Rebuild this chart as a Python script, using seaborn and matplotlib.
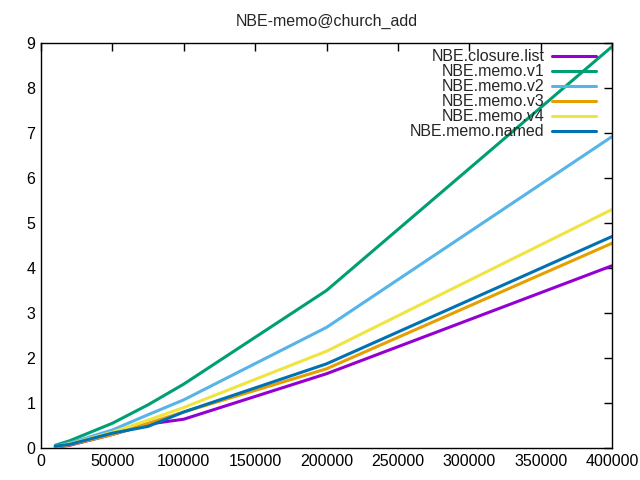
import matplotlib
matplotlib.use("Agg")
import matplotlib.pyplot as plt
import seaborn as sns
import pandas as pd

x_vals = [10000, 20000, 50000, 75000, 100000, 200000, 400000]
closure_list = [0.02, 0.06, 0.30, 0.53, 0.64, 1.65, 4.05]
memo_v1 = [0.06, 0.16, 0.55, 0.96, 1.42, 3.50, 8.92]
memo_v2 = [0.04, 0.11, 0.40, 0.74, 1.07, 2.68, 6.92]
memo_v3 = [0.02, 0.07, 0.30, 0.55, 0.80, 1.76, 4.55]
memo_v4 = [0.03, 0.09, 0.35, 0.62, 0.90, 2.15, 5.30]
memo_named = [0.04, 0.08, 0.33, 0.48, 0.80, 1.87, 4.70]

series_names = ["NBE.closure.list", "NBE.memo.v1", "NBE.memo.v2",
                "NBE.memo.v3", "NBE.memo.v4", "NBE.memo.named"]
series_vals = [closure_list, memo_v1, memo_v2, memo_v3, memo_v4, memo_named]
colors = ["#9400D3", "#009E73", "#56B4E9", "#E69F00", "#F0E442", "#0072B2"]

rows = []
for name, vals in zip(series_names, series_vals):
    for xv, yv in zip(x_vals, vals):
        rows.append({"n": xv, "time": yv, "series": name})
df = pd.DataFrame(rows)

sns.set_theme(style="white")
plt.rcParams["font.family"] = ["Liberation Sans", "DejaVu Sans"]

fig = plt.figure(figsize=(6.4, 4.8), dpi=100)
ax = fig.add_axes([41/640, 1-448/480, (612-41)/640, (448-43)/480])

sns.lineplot(data=df, x="n", y="time", hue="series", hue_order=series_names,
             palette=dict(zip(series_names, colors)), linewidth=2.2, ax=ax,
             sort=True, estimator=None)

ax.set_xlim(0, 400000)
ax.set_ylim(0, 9)
ax.set_xticks(range(0, 400001, 50000))
ax.set_xticklabels([str(v) for v in range(0, 400001, 50000)])
ax.set_yticks(range(0, 10))
ax.set_xlabel("")
ax.set_ylabel("")
ax.tick_params(direction="in", length=6, width=1, top=True, right=True,
               labelsize=11.5, colors="black", pad=4)
for s in ax.spines.values():
    s.set_color("black")
    s.set_linewidth(1)
ax.set_title("NBE-memo@church_add", fontsize=11.5, pad=12)

leg = ax.legend(loc="upper right", frameon=False, markerfirst=False,
                fontsize=11.5, handlelength=2.7, labelspacing=0.0,
                borderaxespad=0.0, handletextpad=0.5,
                bbox_to_anchor=(1 - 10/571, 1.0))
for t in leg.get_texts():
    t.set_ha("right")

fig.savefig("out.png", dpi=100)
